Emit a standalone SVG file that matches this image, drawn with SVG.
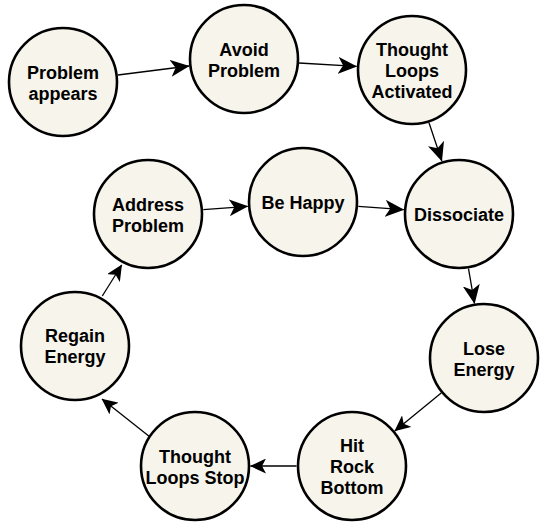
<svg xmlns="http://www.w3.org/2000/svg" width="548" height="525" viewBox="0 0 548 525">
  <style>
    .node circle { fill: #f7f4eb; stroke: #000; stroke-width: 2.6; }
    .node text { font-family: "Liberation Sans", Arial, sans-serif; font-weight: bold; font-size: 18px; fill: #000; text-anchor: middle; }
    .edges line { stroke: #000; stroke-width: 1.3; fill: none; }
    .edges line.big { marker-end: url(#arrow-big); }
    .edges line.small { marker-end: url(#arrow); }
  </style>
  <defs>
    <marker id="arrow" markerUnits="userSpaceOnUse" viewBox="0 0 16 15" markerWidth="16" markerHeight="15" refX="15.5" refY="7.5" orient="auto">
      <path d="M0,0 L16,7.5 L0,15 L4,7.5 Z" fill="#000"/>
    </marker>
    <marker id="arrow-big" markerUnits="userSpaceOnUse" viewBox="0 0 19 17" markerWidth="19" markerHeight="17" refX="18.5" refY="8.5" orient="auto">
      <path d="M0,0 L19,8.5 L0,17 L5,8.5 Z" fill="#000"/>
    </marker>
  </defs>
  <rect width="548" height="525" fill="#fff"/>

  <g class="edges" id="connectors">
    <line class="big" x1="118" y1="75" x2="189" y2="66"/>
    <line class="big" x1="299" y1="63" x2="356.6" y2="66.4"/>
    <line class="big" x1="429" y1="122.7" x2="441.8" y2="161"/>
    <line class="big" x1="203.3" y1="209.7" x2="247.7" y2="206.3"/>
    <line class="big" x1="358.3" y1="206.3" x2="403.7" y2="209.7"/>
    <line class="big" x1="468.5" y1="268.6" x2="474.5" y2="303.4"/>
    <line class="small" x1="441.2" y1="393" x2="394.8" y2="431"/>
    <line class="small" x1="296.5" y1="466" x2="250.5" y2="466"/>
    <line class="small" x1="150" y1="437" x2="102" y2="399"/>
    <line class="small" x1="102.3" y1="296" x2="121.7" y2="265"/>
  </g>

  <g class="node" id="problem-appears">
    <circle cx="63" cy="82" r="54"/>
    <text x="63" y="79">Problem</text>
    <text x="63" y="100">appears</text>
  </g>
  <g class="node" id="avoid-problem">
    <circle cx="244" cy="59" r="54"/>
    <text x="244" y="55.5">Avoid</text>
    <text x="244" y="76.5">Problem</text>
  </g>
  <g class="node" id="thought-loops-activated">
    <circle cx="412" cy="70" r="54"/>
    <text x="412" y="56">Thought</text>
    <text x="412" y="77">Loops</text>
    <text x="412" y="98">Activated</text>
  </g>
  <g class="node" id="dissociate">
    <circle cx="459" cy="214" r="54"/>
    <text x="459" y="221">Dissociate</text>
  </g>
  <g class="node" id="be-happy">
    <circle cx="303" cy="202" r="54"/>
    <text x="303" y="209">Be Happy</text>
  </g>
  <g class="node" id="address-problem">
    <circle cx="148" cy="214" r="54"/>
    <text x="148" y="210.5">Address</text>
    <text x="148" y="231.5">Problem</text>
  </g>
  <g class="node" id="regain-energy">
    <circle cx="75" cy="346" r="54"/>
    <text x="75" y="342">Regain</text>
    <text x="75" y="363">Energy</text>
  </g>
  <g class="node" id="thought-loops-stop">
    <circle cx="195" cy="466" r="54"/>
    <text x="195" y="462.5">Thought</text>
    <text x="195" y="483.5">Loops Stop</text>
  </g>
  <g class="node" id="hit-rock-bottom">
    <circle cx="352" cy="466" r="54"/>
    <text x="352" y="452">Hit</text>
    <text x="352" y="473">Rock</text>
    <text x="352" y="494">Bottom</text>
  </g>
  <g class="node" id="lose-energy">
    <circle cx="484" cy="358" r="54"/>
    <text x="484" y="354.5">Lose</text>
    <text x="484" y="375.5">Energy</text>
  </g>
</svg>
